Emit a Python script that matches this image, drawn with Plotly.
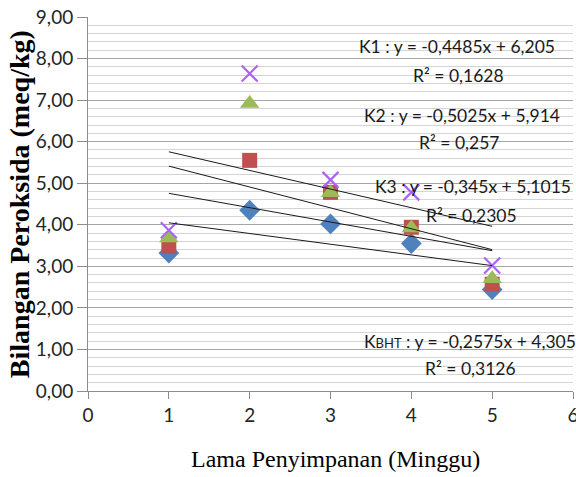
import plotly.graph_objects as go

# Data (weeks of storage vs peroxide value, meq/kg)
weeks = [1, 2, 3, 4, 5]
kbht = [3.32, 4.35, 4.02, 3.55, 2.44]
k3 = [3.48, 5.55, 4.78, 3.94, 2.57]
k2 = [3.68, 6.92, 4.77, 3.92, 2.70]
k1 = [3.87, 7.64, 5.08, 4.78, 3.02]

# Trendline coefficients (slope, intercept) as displayed
trend_names = ["K1", "K2", "K3", "KBHT"]
slopes = [-0.4485, -0.5025, -0.345, -0.2575]
intercepts = [6.205, 5.914, 5.1015, 4.305]
trend_x = [1, 5]

eq_labels = [
    "K1 : y = -0,4485x + 6,205",
    "K2 : y = -0,5025x + 5,914",
    "K3 : y = -0,345x + 5,1015",
    "K<span style='font-size:13px'>BHT</span> : y = -0,2575x + 4,305",
]
r2_labels = ["R² = 0,1628", "R² = 0,257", "R² = 0,2305", "R² = 0,3126"]

fig = go.Figure()

fig.add_trace(go.Scatter(x=weeks, y=kbht, mode="markers", name="KBHT",
                         marker=dict(symbol="diamond", size=16, color="#4F81BD")))
fig.add_trace(go.Scatter(x=weeks, y=k3, mode="markers", name="K3",
                         marker=dict(symbol="square", size=15, color="#C0504D")))
fig.add_trace(go.Scatter(x=weeks, y=k2, mode="markers", name="K2",
                         marker=dict(symbol="triangle-up", size=17, color="#9BBB59")))
fig.add_trace(go.Scatter(x=weeks, y=k1, mode="markers", name="K1",
                         marker=dict(symbol="x-thin-open", size=16,
                                     line=dict(color="#7E62A0", width=2.2))))

for n, m, b in zip(trend_names, slopes, intercepts):
    fig.add_trace(go.Scatter(x=trend_x, y=[m * xx + b for xx in trend_x], mode="lines",
                             name="Trend " + n, line=dict(color="#1a1a1a", width=1)))

# Annotation placement (layout positions)
eq_pos = [(4.57, 8.28), (4.63, 6.62), (4.76, 4.91), (4.73, 1.18)]
r2_pos = [(4.58, 7.60), (4.60, 5.97), (4.75, 4.23), (4.73, 0.53)]
ann_font = dict(family="Lato", size=17.5, color="#1a1a1a")
annotations = []
for t, (ax, ay) in zip(eq_labels, eq_pos):
    annotations.append(dict(x=ax, y=ay, xref="x", yref="y", text=t, showarrow=False,
                            font=ann_font, xanchor="center", yanchor="middle"))
for t, (ax, ay) in zip(r2_labels, r2_pos):
    annotations.append(dict(x=ax, y=ay, xref="x", yref="y", text=t, showarrow=False,
                            font=ann_font, xanchor="center", yanchor="middle"))

annotations.append(dict(text="<b>Bilangan Peroksida (meq/kg)</b>", textangle=-90,
                        xref="paper", yref="paper", x=-0.142, y=0.5, showarrow=False,
                        xanchor="center", yanchor="middle",
                        font=dict(family="Liberation Serif", size=28, color="#000000")))
annotations.append(dict(text="Lama Penyimpanan (Minggu)",
                        xref="paper", yref="paper", x=0.511, y=-0.183, showarrow=False,
                        xanchor="center", yanchor="middle",
                        font=dict(family="Liberation Serif", size=24, color="#000000")))

fig.update_layout(
    width=576, height=477,
    margin=dict(l=88, r=3, t=17, b=86),
    paper_bgcolor="white", plot_bgcolor="white",
    showlegend=False,
    separators=",.",
    annotations=annotations,
    font=dict(family="Lato", size=19, color="#262626"),
)

fig.update_xaxes(
    range=[0, 6], dtick=1, tick0=0, showgrid=False, zeroline=False,
    showline=True, linecolor="#8c8c8c", linewidth=1,
    ticks="outside", ticklen=7, tickcolor="#8c8c8c",
    ticklabeloverflow="allow", automargin=False,
    tickfont=dict(family="Lato", size=19, color="#262626"),
)
fig.update_yaxes(
    range=[0, 9], dtick=1, tick0=0, tickformat=".2f",
    showgrid=True, gridcolor="#a6a6a6", gridwidth=1, zeroline=False,
    showline=True, linecolor="#8c8c8c", linewidth=1, automargin=False,
    ticks="outside", ticklen=10, tickcolor="#8c8c8c",
    tickfont=dict(family="Lato", size=19, color="#262626"),
    minor=dict(dtick=0.2, showgrid=True, gridcolor="#d4d4d4", gridwidth=1, ticks=""),
)

fig.write_html("out.html", config={"displayModeBar": False},
               post_script="document.body.style.margin='0';")
